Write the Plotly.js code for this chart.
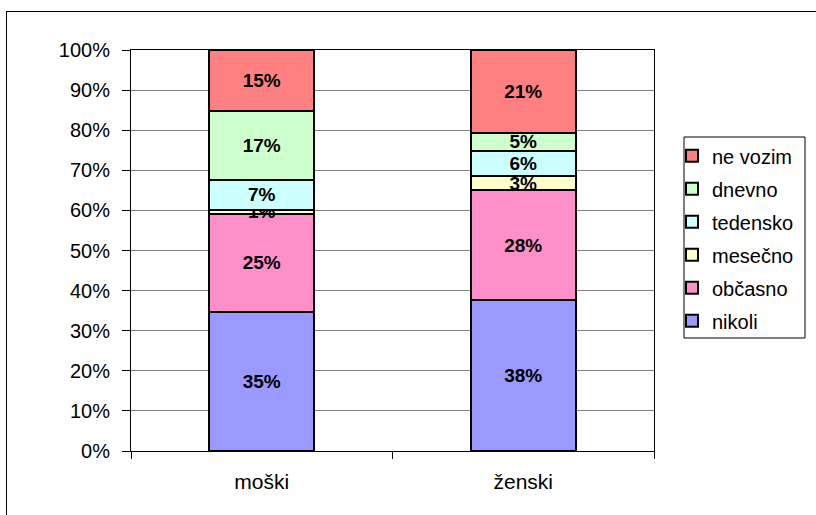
<!DOCTYPE html>
<html>
<head>
<meta charset="utf-8">
<script src="https://cdn.plot.ly/plotly-3.0.1.min.js"></script>
<style>
html,body{margin:0;padding:0;background:#fff;}
#frame{position:absolute;left:6px;top:11px;width:900px;height:600px;border:1px solid #000;box-sizing:border-box;}
#chart{position:absolute;left:0;top:0;width:816px;height:515px;}
</style>
</head>
<body>
<div id="frame"></div>
<div id="chart"></div>
<script>
const categories = ['moški', 'ženski'];
const seriesNames = ['nikoli', 'občasno', 'mesečno', 'tedensko', 'dnevno', 'ne vozim'];
const nikoli   = [34.6, 37.6];
const obcasno  = [24.6, 27.5];
const mesecno  = [1.0, 3.4];
const tedensko = [7.4, 6.3];
const dnevno   = [17.3, 4.6];
const neVozim  = [15.1, 20.6];
const colors = ['#9999ff', '#ff8fc8', '#ffffcc', '#ccffff', '#ccffcc', '#ff8080'];

const FONT = '"Liberation Sans", Arial, sans-serif';
const values = [nikoli, obcasno, mesecno, tedensko, dnevno, neVozim];
const traces = values.map((v, i) => ({
  type: 'bar',
  name: seriesNames[i],
  x: categories,
  y: v,
  legendgroup: 'g' + i,
  legendrank: 100 - i,
  marker: {color: colors[i], line: {color: '#000', width: 2}},
  texttemplate: '%{y:.0f}%',
  textposition: 'inside',
  insidetextanchor: 'middle',
  constraintext: 'none',
  textangle: 0,
  textfont: {family: FONT, size: 19, color: '#000', weight: 'bold'},
  cliponaxis: false,
  hoverinfo: 'skip'
}));

const layout = {
  width: 816, height: 515,
  margin: {l: 131, r: 162, t: 50, b: 64},
  paper_bgcolor: 'rgba(0,0,0,0)',
  plot_bgcolor: '#fff',
  barmode: 'stack',
  bargap: 0.6,
  font: {family: FONT, size: 19, color: '#000'},
  xaxis: {
    showline: true, linecolor: '#000', linewidth: 1, mirror: true,
    ticks: 'outside', tickson: 'boundaries', ticklen: 7, tickcolor: '#000',
    tickfont: {family: FONT, size: 21}, showgrid: false, ticklabelstandoff: 12
  },
  yaxis: {
    range: [0, 100.01], tick0: 0, dtick: 10, ticksuffix: '%',
    showline: true, linecolor: '#000', linewidth: 1, mirror: true,
    ticks: 'outside', ticklen: 8, tickcolor: '#000',
    showgrid: true, gridcolor: '#808080', gridwidth: 1,
    tickfont: {family: FONT, size: 20}, zeroline: false, ticklabelstandoff: 8
  },
  legend: {
    x: (672 - 131) / 523, xanchor: 'left', y: 0.785, yanchor: 'top',
    traceorder: 'grouped', borderwidth: 0,
    bgcolor: 'rgba(0,0,0,0)', font: {family: FONT, size: 20}, tracegroupgap: 4,
    itemwidth: 30
  },
  shapes: [{
    type: 'rect', xref: 'paper', yref: 'paper',
    x0: (684 - 131) / 523, x1: (805 - 131) / 523,
    y0: (451 - 338) / 401, y1: (451 - 137) / 401,
    line: {color: '#000', width: 1}, fillcolor: 'rgba(0,0,0,0)', layer: 'below'
  }],
  showlegend: true
};

Plotly.newPlot('chart', traces, layout, {displayModeBar: false, staticPlot: true});
</script>
</body>
</html>
